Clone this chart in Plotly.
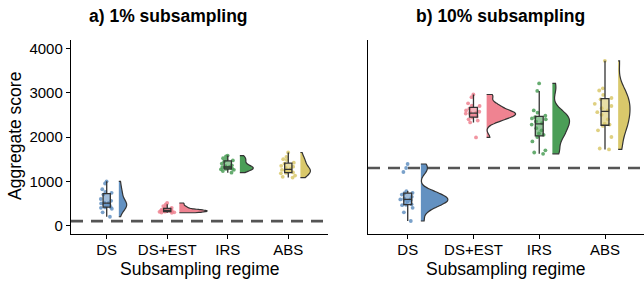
import numpy as np
import plotly.graph_objects as go

regimes = ["DS", "DS+EST", "IRS", "ABS"]
colors = ["#6391c1", "#ef8391", "#4b9e57", "#d9c86b"]

# Panel a) 1% subsampling — aggregate scores per run
a_ds = [200, 300, 380, 400, 410, 420, 450, 470, 490, 500, 510, 520, 560, 600, 700, 740, 760, 820, 950, 1000]
a_dsest = [290, 295, 300, 310, 315, 320, 325, 330, 335, 340, 345, 350, 355, 360, 380, 400, 420, 440, 480, 510]
a_irs = [1195, 1230, 1260, 1270, 1280, 1285, 1290, 1300, 1310, 1320, 1325, 1340, 1360, 1400, 1450, 1470, 1490, 1520, 1560, 1580]
a_abs = [1085, 1100, 1130, 1180, 1190, 1200, 1210, 1230, 1250, 1260, 1280, 1300, 1330, 1350, 1400, 1420, 1480, 1500, 1550, 1650]

# Panel b) 10% subsampling
b_ds = [104, 300, 400, 460, 470, 480, 540, 570, 585, 590, 595, 610, 650, 700, 730, 740, 780, 1210, 1300, 1390]
b_dsest = [1990, 2330, 2370, 2400, 2440, 2460, 2480, 2500, 2520, 2530, 2545, 2555, 2570, 2600, 2640, 2700, 2710, 2760, 2900, 2960]
b_irs = [1620, 1650, 1700, 1900, 2000, 2050, 2080, 2150, 2200, 2280, 2310, 2350, 2400, 2420, 2450, 2480, 2550, 2600, 3040, 3210]
b_abs = [1720, 1740, 2000, 2150, 2250, 2280, 2300, 2400, 2500, 2560, 2600, 2650, 2700, 2750, 2850, 2880, 2950, 3050, 3100, 3720]

# Reference (dashed) thresholds
threshold_a = 100
threshold_b = 1300

panel_titles = ["a) 1% subsampling", "b) 10% subsampling"]
x_title = "Subsampling regime"
y_title = "Aggregate score"

# half-violin max extents (x units), as drawn
violin_w_a = [0.13, 0.46, 0.22, 0.165]
violin_w_b = [0.41, 0.44, 0.26, 0.18]


def rgba(hexc, a):
    h = hexc.lstrip("#")
    r, g, b = int(h[0:2], 16), int(h[2:4], 16), int(h[4:6], 16)
    return f"rgba({r},{g},{b},{a})"


def bw_nrd0(v):
    v = np.asarray(v, float)
    sd = v.std(ddof=1)
    iqr = np.subtract(*np.percentile(v, [75, 25]))
    lo = min(sd, iqr / 1.34) if iqr > 0 else sd
    return 0.9 * lo * len(v) ** (-0.2)


fig = go.Figure()
panels = [
    ([a_ds, a_dsest, a_irs, a_abs], violin_w_a, "x", "y"),
    ([b_ds, b_dsest, b_irs, b_abs], violin_w_b, "x2", "y2"),
]

for data, vw, xa, ya in panels:
    for i, reg in enumerate(regimes):
        pos = i + 1
        vals = data[i]
        col = colors[i]
        # jittered raw points
        fig.add_trace(go.Box(
            x0=pos, y=vals, name=reg, width=0.32, boxpoints="all", jitter=1, pointpos=0,
            fillcolor="rgba(0,0,0,0)", line=dict(width=0, color="rgba(0,0,0,0)"),
            marker=dict(color=rgba(col, 0.85), size=3.8), xaxis=xa, yaxis=ya,
            showlegend=False, hoveron="points"))
        # box plot
        fig.add_trace(go.Box(
            x0=pos, y=vals, name=reg, width=0.12, boxpoints="outliers",
            marker=dict(size=0, opacity=0), whiskerwidth=0,
            fillcolor=rgba(col, 0.6), line=dict(color="#333333", width=1.3),
            xaxis=xa, yaxis=ya, showlegend=False))
        # half violin (one-sided violins use half of the trace width)
        fig.add_trace(go.Violin(
            x0=pos + 0.2, y=vals, name=reg, side="positive", width=2 * vw[i],
            points=False, box_visible=False, spanmode="hard", scalemode="width",
            bandwidth=bw_nrd0(vals), fillcolor=col, opacity=1,
            line=dict(color="#333333", width=1.2), xaxis=xa, yaxis=ya,
            showlegend=False))

axis_font = dict(family="Liberation Sans, Arial, sans-serif", size=15, color="black")
title_font = dict(family="Liberation Sans, Arial, sans-serif", size=17.5, color="black")

W, H = 644, 282
ml, mr, mt, mb = 71, 0, 40, 48
pw = W - ml - mr
ph = H - mt - mb


def px_x(px):
    return (px - ml) / pw


def px_y(py):
    return (H - mb - py) / ph


common_x = dict(
    tickmode="array", tickvals=[1, 2, 3, 4], ticktext=regimes, showline=True,
    linecolor="black", linewidth=1.4, ticks="outside", ticklen=4, tickwidth=1.4,
    tickcolor="black", tickfont=axis_font, showgrid=False, zeroline=False,
    automargin=False, ticklabelstandoff=-2)

fig.update_layout(
    width=W, height=H, margin=dict(l=ml, r=mr, t=mt, b=mb, autoexpand=False),
    paper_bgcolor="white", plot_bgcolor="white", boxmode="overlay", violinmode="overlay",
    xaxis=dict(domain=[0, 257 / pw], range=[0.41, 4.656], anchor="y", **common_x),
    xaxis2=dict(domain=[297 / pw, 1], range=[0.396, 4.593], anchor="y2", **common_x),
    yaxis=dict(range=[-190, 4190], anchor="x", tickvals=[0, 1000, 2000, 3000, 4000],
               showline=True, linecolor="black", linewidth=1.4, ticks="outside",
               ticklen=4, tickwidth=1.4, tickcolor="black", tickfont=axis_font,
               showgrid=False, zeroline=False, automargin=False),
    yaxis2=dict(range=[-190, 4190], anchor="x2", matches="y", showline=True,
                linecolor="black", linewidth=1.4, ticks="", showticklabels=False,
                showgrid=False, zeroline=False, automargin=False),
    showlegend=False,
)

# dashed threshold lines
fig.add_shape(type="line", xref="x domain", yref="y", x0=0, x1=1, y0=threshold_a, y1=threshold_a,
              line=dict(color="#555555", width=2.6, dash="12px,8px"), layer="below")
fig.add_shape(type="line", xref="x2 domain", yref="y2", x0=0, x1=1, y0=threshold_b, y1=threshold_b,
              line=dict(color="#555555", width=2.6, dash="12px,8px"), layer="below")

# panel titles
for t, px in zip(panel_titles, [168, 500]):
    fig.add_annotation(text=f"<b>{t}</b>", xref="paper", yref="paper",
                       x=px_x(px), y=px_y(16), xanchor="center", yanchor="middle",
                       showarrow=False, font=title_font)

# axis titles
for px in [199.5, 506]:
    fig.add_annotation(text=x_title, xref="paper", yref="paper", x=px_x(px), y=px_y(269),
                       xanchor="center", yanchor="middle", showarrow=False, font=title_font)
fig.add_annotation(text=y_title, xref="paper", yref="paper", x=px_x(15), y=px_y(136),
                   xanchor="center", yanchor="middle", textangle=-90, showarrow=False,
                   font=title_font)

fig.write_html("out.html", config={"displayModeBar": False},
               post_script="document.body.style.margin='0';")
